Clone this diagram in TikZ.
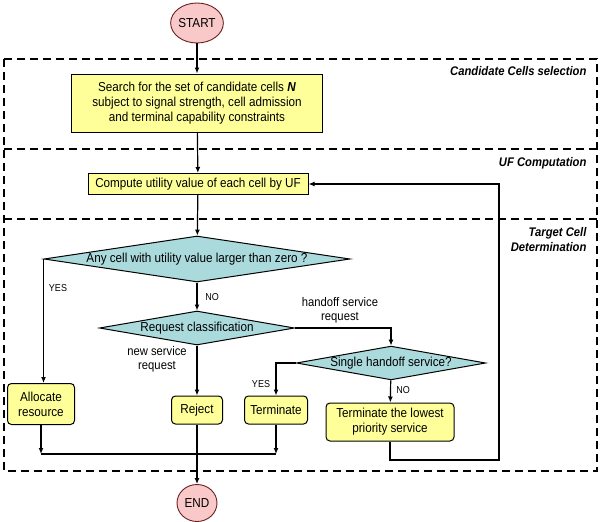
\documentclass[tikz,border=0pt]{standalone}
\usepackage{fontspec}
\setmainfont[FakeStretch=0.9]{Liberation Sans}
\usetikzlibrary{shapes.geometric}
\usetikzlibrary{arrows.meta}
\definecolor{procfill}{HTML}{FFFF99}
\definecolor{decfill}{HTML}{ABDADD}
\definecolor{termfill}{HTML}{F9C9C9}
\definecolor{termline}{HTML}{6B2020}

\begin{document}
\begin{tikzpicture}[x=1pt, y=-1pt, font=\fontsize{13}{15}\selectfont,
    arr/.style={-{Latex[length=6pt,width=5pt]}, line width=1.2pt},
    zone/.style={dashed, dash pattern=on 8pt off 5pt, line width=2pt},
    terminal/.style={ellipse, draw=termline, fill=termfill, line width=0.9pt, inner sep=0pt},
    proc/.style={rectangle, draw, fill=procfill, line width=1pt, align=center, inner sep=1pt},
    rproc/.style={proc, rounded corners=4pt},
    decision/.style={diamond, draw, fill=decfill, line width=1pt, inner sep=0pt},
    zonelabel/.style={anchor=north east, font=\fontsize{12.5}{14.5}\selectfont\bfseries\itshape, align=right},
    tag/.style={font=\fontsize{10}{12}\selectfont, align=center}]
    \useasboundingbox (0,0) rectangle (600,522);

    \draw[zone] (4,59) rectangle (597,471);
    \draw[zone] (4,149) -- (597,149);
    \draw[zone] (4,219) -- (597,219);
    \node[zonelabel] (z1) at (590,63) {Candidate Cells selection};
    \node[zonelabel] (z2) at (590,154) {UF Computation};
    \node[zonelabel] (z3) at (590,224) {Target Cell\\Determination};

    \node[terminal, minimum width=47, minimum height=40] (start) at (197,23) {START};
    \node[proc, minimum width=251, minimum height=58] (search) at (197,103)
        {Search for the set of candidate cells \textbf{\textit{N}}\\subject to signal strength, cell admission\\and terminal capability constraints};
    \node[proc, minimum width=220, minimum height=21] (uf) at (198,184) {Compute utility value of each cell by UF};
    \node[decision, aspect=6.6, minimum width=306, minimum height=46] (any) at (197,259) {Any cell with utility value larger than zero ?};
    \node[decision, aspect=5.7, minimum width=195, minimum height=34] (req) at (197,328) {Request classification};
    \node[decision, aspect=5.6, minimum width=186, minimum height=33] (single) at (391,363) {Single handoff service?};
    \node[rproc, minimum width=67, minimum height=41] (alloc) at (41,404) {Allocate\\resource};
    \node[rproc, minimum width=51, minimum height=28] (reject) at (197,410) {Reject};
    \node[rproc, minimum width=63, minimum height=28] (term) at (276,410) {Terminate};
    \node[rproc, minimum width=128, minimum height=38] (lowest) at (390,422) {Terminate the lowest\\priority service};
    \node[terminal, minimum width=40, minimum height=37] (end) at (197,503) {END};

    \coordinate (mergeL) at (alloc.south |- 0,454);
    \coordinate (mergeR) at (term.south |- 0,454);
    \coordinate (loop) at (499,460);

    \draw[arr] (start) -- (search);
    \draw[arr] (search) -- (uf);
    \draw[arr] (uf) -- (any);
    \draw[arr] (any.west) -- (any.west |- alloc.north);
    \draw[arr] (any) -- (req);
    \draw[arr] (req.east) -| (single.north);
    \draw[arr] (req) -- (reject);
    \draw[arr] (single.west) -| (term.north);
    \draw[arr] (single) -- (lowest);
    \draw[arr] (alloc) -- (mergeL);
    \draw[arr] (term) -- (mergeR);
    \draw[line width=1.2pt] (mergeL) -- (mergeR);
    \draw[arr] (reject) -- (end);
    \draw[arr] (lowest.south) |- (loop) |- (uf.east);

    \node[tag] (yes1) at (58,288) {YES};
    \node[tag] (no1) at (212,297) {NO};
    \node[tag, font=\fontsize{12.5}{14}\selectfont] (hand) at (340,310) {handoff service\\request};
    \node[tag, font=\fontsize{12.5}{14}\selectfont] (new) at (157,359) {new service\\request};
    \node[tag] (yes2) at (261,384) {YES};
    \node[tag] (no2) at (403,390) {NO};
\end{tikzpicture}
\end{document}
